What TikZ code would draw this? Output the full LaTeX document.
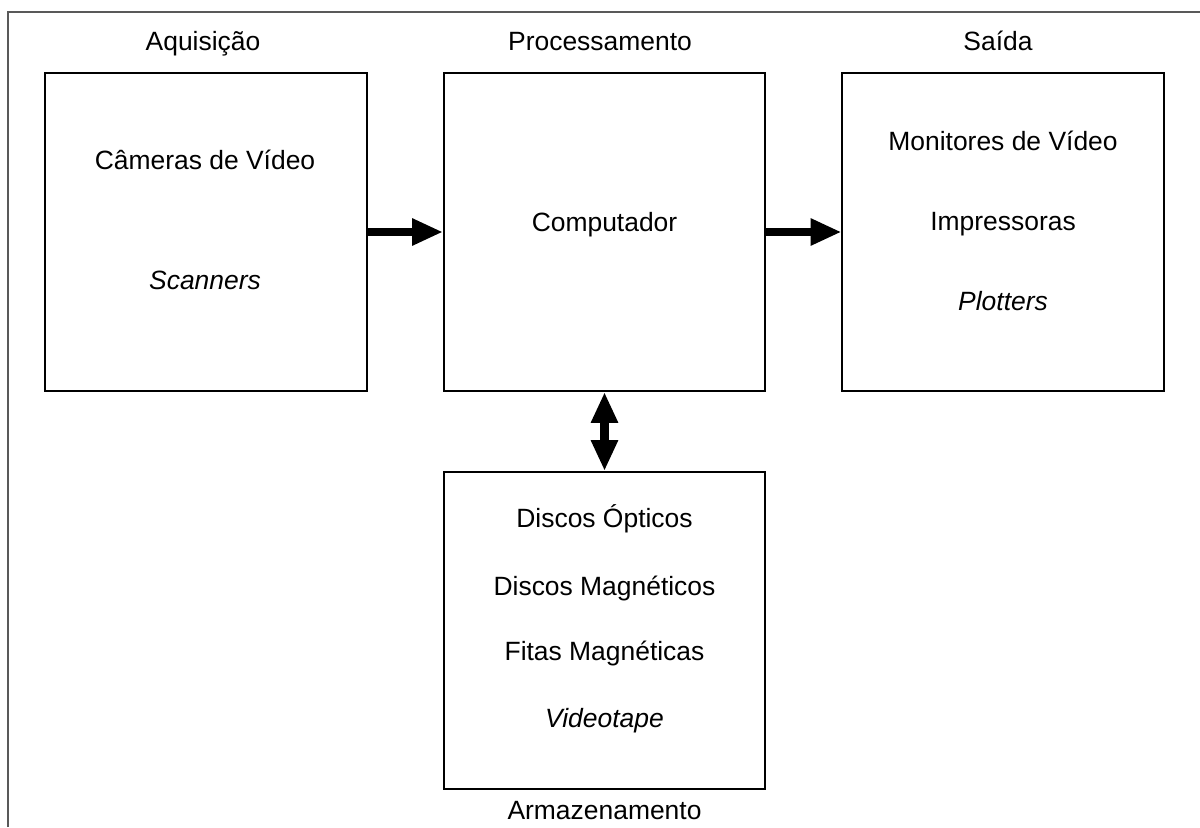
\documentclass[tikz,border=0pt]{standalone}
\usepackage{fontspec}
\setmainfont{Liberation Sans}
\usetikzlibrary{arrows.meta}
\tikzset{
	caixa/.style={draw, line width=1.4pt, minimum width=8.025cm, minimum height=7.95cm, inner sep=0pt},
	rotulo/.style={font=\fontsize{18.8}{22}\selectfont, inner sep=0pt, text height=1.0em, text depth=0pt},
	ponta/.tip={Triangle[length=22pt,width=18pt]},
	seta/.style={line width=6.3pt, -ponta},
	setadupla/.style={line width=6pt, ponta-ponta},
}
\begin{document}
\begin{tikzpicture}[x=0.025cm, y=-0.025cm]
			%%%%% START %%%%%
			\useasboundingbox (0, 0) rectangle (1200, 827);
			
			\draw[line width=1pt, color=black!65] (8, 827) -- (8, 12) -- (1200, 12);
			
			\node[caixa] (aquis) at (206, 232) {};
			\node[caixa] (proc) at (604.5, 232) {};
			\node[caixa] (saida) at (1003, 232) {};
			\node[caixa, minimum height=7.925cm] (armaz) at (604.5, 630.5) {};
			
			\node[rotulo] (taquis) at (203, 43) {Aquisição};
			\node[rotulo] (tproc) at (600, 43) {Processamento};
			\node[rotulo] (tsaida) at (998, 43) {Saída};
			\node[rotulo] (tarmaz) at (604.5, 812) {Armazenamento};
			
			\node[rotulo] (cameras) at (205, 162) {Câmeras de Vídeo};
			\node[rotulo] (scanners) at (205, 282) {\itshape Scanners};
			
			\node[rotulo] (computador) at (604.5, 224) {Computador};
			
			\node[rotulo] (monitores) at (1003, 143) {Monitores de Vídeo};
			\node[rotulo] (impressoras) at (1003, 223) {Impressoras};
			\node[rotulo] (plotters) at (1003, 303) {\itshape Plotters};
			
			\node[rotulo] (opticos) at (604.5, 520) {Discos Ópticos};
			\node[rotulo] (magneticos) at (604.5, 588) {Discos Magnéticos};
			\node[rotulo] (fitas) at (604.5, 653) {Fitas Magnéticas};
			\node[rotulo] (videotape) at (604.5, 720) {\itshape Videotape};
			
			\draw[seta] (aquis.east) -- (proc.west);
			\draw[seta] (proc.east) -- (saida.west);
			\draw[setadupla] (proc.south) -- (armaz.north);
			%%%%% END %%%%%
\end{tikzpicture}
\end{document}
